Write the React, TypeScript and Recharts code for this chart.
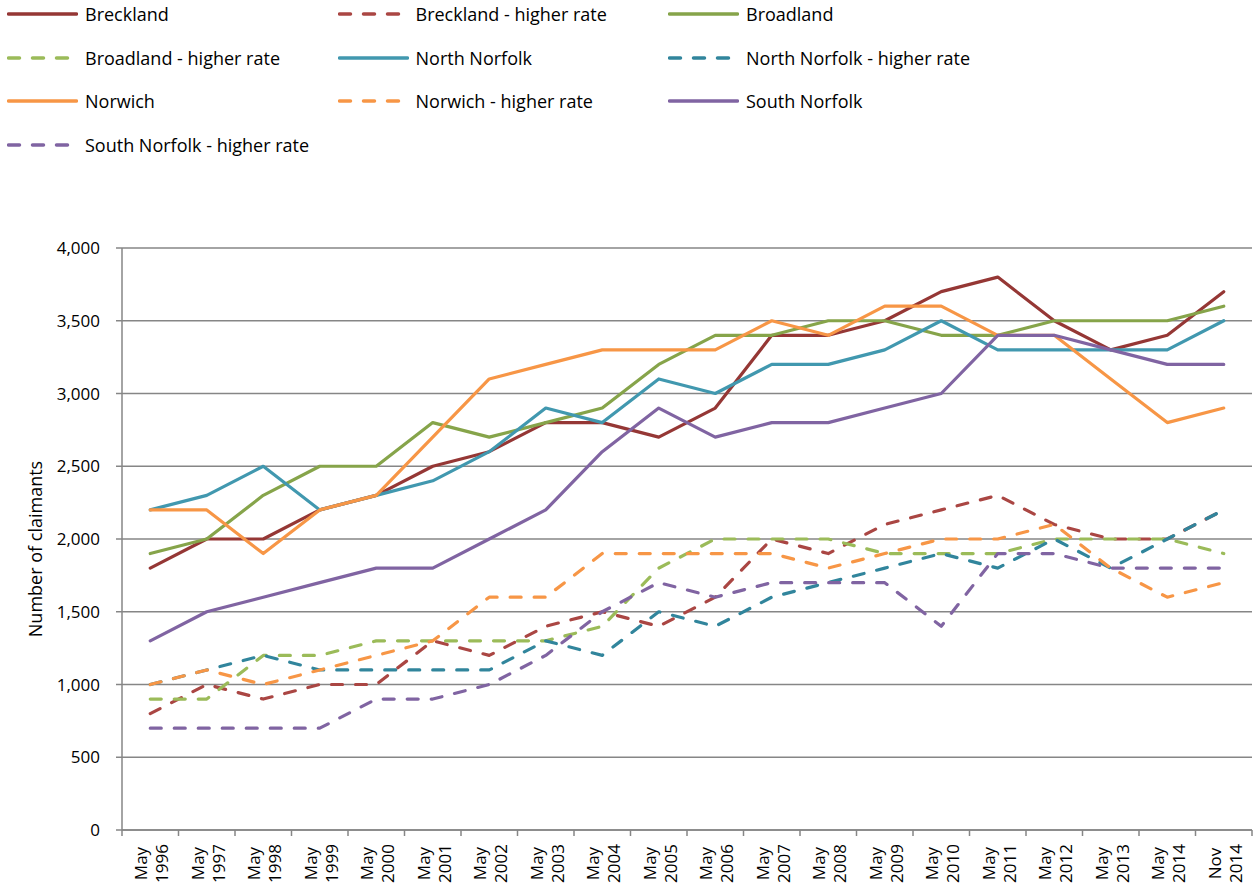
import React from "react";
import { LineChart, Line, XAxis, YAxis, CartesianGrid } from "recharts";

const categories = [
  "May 1996", "May 1997", "May 1998", "May 1999", "May 2000", "May 2001", "May 2002",
  "May 2003", "May 2004", "May 2005", "May 2006", "May 2007", "May 2008", "May 2009",
  "May 2010", "May 2011", "May 2012", "May 2013", "May 2014", "Nov 2014",
];

const breckland = [1800, 2000, 2000, 2200, 2300, 2500, 2600, 2800, 2800, 2700, 2900, 3400, 3400, 3500, 3700, 3800, 3500, 3300, 3400, 3700];
const brecklandHigher = [800, 1000, 900, 1000, 1000, 1300, 1200, 1400, 1500, 1400, 1600, 2000, 1900, 2100, 2200, 2300, 2100, 2000, 2000, 2200];
const broadland = [1900, 2000, 2300, 2500, 2500, 2800, 2700, 2800, 2900, 3200, 3400, 3400, 3500, 3500, 3400, 3400, 3500, 3500, 3500, 3600];
const broadlandHigher = [900, 900, 1200, 1200, 1300, 1300, 1300, 1300, 1400, 1800, 2000, 2000, 2000, 1900, 1900, 1900, 2000, 2000, 2000, 1900];
const northNorfolk = [2200, 2300, 2500, 2200, 2300, 2400, 2600, 2900, 2800, 3100, 3000, 3200, 3200, 3300, 3500, 3300, 3300, 3300, 3300, 3500];
const northNorfolkHigher = [1000, 1100, 1200, 1100, 1100, 1100, 1100, 1300, 1200, 1500, 1400, 1600, 1700, 1800, 1900, 1800, 2000, 1800, 2000, 2200];
const norwich = [2200, 2200, 1900, 2200, 2300, 2700, 3100, 3200, 3300, 3300, 3300, 3500, 3400, 3600, 3600, 3400, 3400, 3100, 2800, 2900];
const norwichHigher = [1000, 1100, 1000, 1100, 1200, 1300, 1600, 1600, 1900, 1900, 1900, 1900, 1800, 1900, 2000, 2000, 2100, 1800, 1600, 1700];
const southNorfolk = [1300, 1500, 1600, 1700, 1800, 1800, 2000, 2200, 2600, 2900, 2700, 2800, 2800, 2900, 3000, 3400, 3400, 3300, 3200, 3200];
const southNorfolkHigher = [700, 700, 700, 700, 900, 900, 1000, 1200, 1500, 1700, 1600, 1700, 1700, 1700, 1400, 1900, 1900, 1800, 1800, 1800];

const yTicks = [0, 500, 1000, 1500, 2000, 2500, 3000, 3500, 4000];

const SERIES = [
  { key: "breckland", name: "Breckland", values: breckland, color: "#953735", dashed: false },
  { key: "brecklandHigher", name: "Breckland - higher rate", values: brecklandHigher, color: "#AA4643", dashed: true },
  { key: "broadland", name: "Broadland", values: broadland, color: "#86A44A", dashed: false },
  { key: "broadlandHigher", name: "Broadland - higher rate", values: broadlandHigher, color: "#9BBB59", dashed: true },
  { key: "northNorfolk", name: "North Norfolk", values: northNorfolk, color: "#4198AF", dashed: false },
  { key: "northNorfolkHigher", name: "North Norfolk - higher rate", values: northNorfolkHigher, color: "#31859C", dashed: true },
  { key: "norwich", name: "Norwich", values: norwich, color: "#F79646", dashed: false },
  { key: "norwichHigher", name: "Norwich - higher rate", values: norwichHigher, color: "#F79646", dashed: true },
  { key: "southNorfolk", name: "South Norfolk", values: southNorfolk, color: "#8064A2", dashed: false },
  { key: "southNorfolkHigher", name: "South Norfolk - higher rate", values: southNorfolkHigher, color: "#8064A2", dashed: true },
];

const data = categories.map((cat, i) => {
  const row: Record<string, string | number> = { cat };
  SERIES.forEach((s) => (row[s.key] = s.values[i]));
  return row;
});

const W = 1259;
const H = 890;
const MARGIN = { top: 248, right: 7, bottom: 0, left: 0 };
const Y_W = 122;
const X_H = 60;
const PLOT_W = W - MARGIN.left - MARGIN.right - Y_W;
const HALF = PLOT_W / categories.length / 2;
const FONT = "'Open Sans', sans-serif";
const AXIS = "#868686";
const DASH = "11 13";

function XTick(props: any) {
  const { x, y, payload, index } = props;
  const [m, yr] = String(payload.value).split(" ");
  const last = index === categories.length - 1;
  return (
    <g>
      <line x1={x - HALF} x2={x - HALF} y1={y} y2={y + 6} stroke={AXIS} strokeWidth={1.5} />
      {last && <line x1={x + HALF} x2={x + HALF} y1={y} y2={y + 6} stroke={AXIS} strokeWidth={1.5} />}
      <text
        transform={`translate(${x},${y + 33.5}) rotate(-90)`}
        textAnchor="middle"
        fontSize={17}
        fontFamily={FONT}
        fill="#000"
      >
        <tspan x={0} y={-3}>{m}</tspan>
        <tspan x={0} y={18}>{yr}</tspan>
      </text>
    </g>
  );
}

function YLabel(props: any) {
  const vb = props.viewBox || { y: 248, height: 582 };
  const cx = 35;
  const cy = vb.y + vb.height / 2 + 10;
  return (
    <text
      x={cx}
      y={cy}
      transform={`rotate(-90 ${cx} ${cy})`}
      textAnchor="middle"
      dominantBaseline="central"
      fontSize={18}
      fontFamily={FONT}
      fill="#000"
    >
      Number of claimants
    </text>
  );
}

function ChartLegend() {
  return (
    <div style={{ position: "absolute", left: 0, top: 0, width: W, height: 170 }}>
      {SERIES.map((s, i) => {
        const col = i % 3;
        const row = Math.floor(i / 3);
        return (
          <div
            key={s.key}
            style={{
              position: "absolute",
              left: 7 + col * 330.5,
              top: 14 + row * 43.7 - 12,
              height: 24,
              display: "flex",
              alignItems: "center",
              fontFamily: FONT,
              fontSize: 18,
              color: "#000",
              whiteSpace: "nowrap",
            }}
          >
            <svg width={71} height={6} style={{ marginRight: 7 }}>
              <line
                x1={1.5}
                x2={69.5}
                y1={3}
                y2={3}
                stroke={s.color}
                strokeWidth={3.5}
                strokeLinecap="round"
                strokeDasharray={s.dashed ? DASH : undefined}
              />
            </svg>
            <span>{s.name}</span>
          </div>
        );
      })}
    </div>
  );
}

export default function App() {
  return (
    <div style={{ position: "absolute", left: 0, top: 0, width: W, height: H, background: "#fff" }}>
      <ChartLegend />
      <LineChart width={W} height={H} data={data} margin={MARGIN}>
        <CartesianGrid horizontal vertical={false} stroke={AXIS} strokeWidth={1.5} />
        <XAxis
          dataKey="cat"
          height={X_H}
          interval={0}
          padding={{ left: HALF, right: HALF }}
          tick={<XTick />}
          tickLine={false}
          tickSize={0}
          tickMargin={0}
          axisLine={{ stroke: AXIS, strokeWidth: 1.5 }}
        />
        <YAxis
          width={Y_W}
          domain={[0, 4000]}
          ticks={yTicks}
          interval={0}
          tickSize={6}
          tickMargin={16}
          tickLine={{ stroke: AXIS, strokeWidth: 1.5 }}
          axisLine={{ stroke: AXIS, strokeWidth: 1.5 }}
          tick={{ fill: "#000", fontSize: 17, fontFamily: FONT }}
          tickFormatter={(v: number) => v.toLocaleString("en-GB")}
          label={<YLabel />}
        />
        {SERIES.map((s) => (
          <Line
            key={s.key}
            type="linear"
            dataKey={s.key}
            name={s.name}
            stroke={s.color}
            strokeWidth={3.2}
            strokeLinejoin="round"
            strokeLinecap="round"
            strokeDasharray={s.dashed ? DASH : undefined}
            dot={false}
            activeDot={false}
            isAnimationActive={false}
          />
        ))}
      </LineChart>
    </div>
  );
}
